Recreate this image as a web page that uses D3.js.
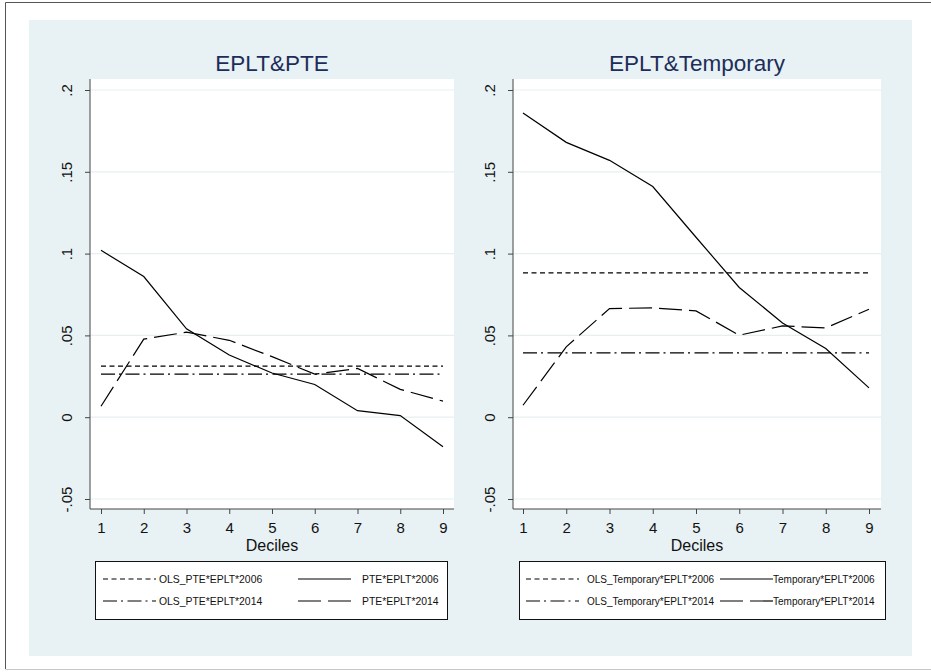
<!DOCTYPE html>
<html>
<head>
<meta charset="utf-8">
<script src="https://cdn.jsdelivr.net/npm/d3@7"></script>
<style>
  body { margin: 0; background: #fff; }
  svg text { font-family: "Liberation Sans", Arial, sans-serif; }
</style>
</head>
<body>
<div class="visualisation"></div>
<script>
const deciles = [1, 2, 3, 4, 5, 6, 7, 8, 9];
const yTicks = [-0.05, 0, 0.05, 0.1, 0.15, 0.2];
const yTickLabels = ['-.05', '0', '.05', '.1', '.15', '.2'];

// EPLT&PTE panel
const pte2006 = [0.102, 0.086, 0.054, 0.038, 0.027, 0.020, 0.004, 0.001, -0.018];
const pte2014 = [0.0067, 0.0477, 0.052, 0.047, 0.037, 0.0263, 0.0298, 0.017, 0.0098];
const olsPte2006 = 0.0312;
const olsPte2014 = 0.0263;

// EPLT&Temporary panel
const temp2006 = [0.186, 0.168, 0.157, 0.141, 0.110, 0.0793, 0.0576, 0.042, 0.0179];
const temp2014 = [0.0073, 0.043, 0.0664, 0.0668, 0.065, 0.0501, 0.0558, 0.0546, 0.066];
const olsTemp2006 = 0.0882;
const olsTemp2014 = 0.0393;

const svgWidth = 931;
const svgHeight = 672;

const DASH = { ols2006: '5,3.5', ols2014: '14,4,2,4.5', solid: null, long: '23,7' };

const panels = [
    {
        title: 'EPLT&PTE',
        box: { x0: 90, x1: 454 },
        xRange: [101, 443],
        ols2006: olsPte2006,
        ols2014: olsPte2014,
        s2006: pte2006,
        s2014: pte2014,
        legendBox: { x: 95, w: 352 },
        labels: ['OLS_PTE*EPLT*2006', 'PTE*EPLT*2006', 'OLS_PTE*EPLT*2014', 'PTE*EPLT*2014'],
        keyX: [103, 298],
        textX: [159, 362],
        fontSize: '10.4px'
    },
    {
        title: 'EPLT&Temporary',
        box: { x0: 513, x1: 881 },
        xRange: [523, 869],
        ols2006: olsTemp2006,
        ols2014: olsTemp2014,
        s2006: temp2006,
        s2014: temp2014,
        legendBox: { x: 519, w: 366 },
        labels: ['OLS_Temporary*EPLT*2006', 'Temporary*EPLT*2006', 'OLS_Temporary*EPLT*2014', 'Temporary*EPLT*2014'],
        keyX: [526, 720],
        textX: [587, 773],
        fontSize: '10px'
    }
];

const plotTop = 79;
const plotBottom = 509;

const svg = d3
    .select('.visualisation')
    .append('svg')
    .attr('width', svgWidth)
    .attr('height', svgHeight);

// outer frame
svg.append('line').attr('x1', 5.5).attr('x2', 931).attr('y1', 2.5).attr('y2', 2.5).attr('stroke', '#555');
svg.append('line').attr('x1', 5.5).attr('x2', 5.5).attr('y1', 2.5).attr('y2', 669).attr('stroke', '#555');
svg.append('line').attr('x1', 5.5).attr('x2', 931).attr('y1', 669.5).attr('y2', 669.5).attr('stroke', '#c8c8c8');

// light blue graph region
svg.append('rect')
    .attr('x', 29).attr('y', 20)
    .attr('width', 883).attr('height', 636)
    .attr('fill', '#e8f1f4');

const yScale = d3.scaleLinear().domain([-0.05, 0.2]).range([499, 90]);

panels.forEach((p) => {
    const xScale = d3.scaleLinear().domain([1, 9]).range(p.xRange);
    const g = svg.append('g');

    // plot area
    g.append('rect')
        .attr('x', p.box.x0).attr('y', plotTop)
        .attr('width', p.box.x1 - p.box.x0).attr('height', plotBottom - plotTop)
        .attr('fill', '#fff');

    // grid lines
    g.selectAll('line.grid').data(yTicks).join('line')
        .attr('class', 'grid')
        .attr('x1', p.box.x0).attr('x2', p.box.x1)
        .attr('y1', (d) => yScale(d)).attr('y2', (d) => yScale(d))
        .attr('stroke', '#e6eff0').attr('stroke-width', 1.2);

    // title
    g.append('text')
        .text(p.title)
        .attr('x', (p.box.x0 + p.box.x1) / 2)
        .attr('y', 71)
        .attr('text-anchor', 'middle')
        .attr('font-size', '22.5px')
        .attr('fill', '#1c2d59');

    // y axis
    const yAxis = g.append('g')
        .attr('transform', `translate(${p.box.x0},0)`)
        .call(d3.axisLeft(yScale).tickValues(yTicks).tickSize(5)
            .tickFormat((d, i) => yTickLabels[i]));
    yAxis.select('.domain').attr('d', `M0,${plotTop}V${plotBottom}`).attr('stroke', '#444');
    yAxis.selectAll('.tick line').attr('stroke', '#444');
    yAxis.selectAll('.tick text')
        .attr('transform', 'rotate(-90)')
        .attr('x', 0).attr('y', -18).attr('dy', 0)
        .attr('text-anchor', 'middle')
        .attr('font-size', '15px')
        .attr('font-family', '"Liberation Sans", Arial, sans-serif')
        .attr('fill', '#111');

    // x axis
    const xAxis = g.append('g')
        .attr('transform', `translate(0,${plotBottom})`)
        .call(d3.axisBottom(xScale).tickValues(deciles).tickSize(5).tickPadding(8.5)
            .tickFormat(d3.format('d')));
    xAxis.select('.domain').attr('d', `M${p.box.x0},0H${p.box.x1}`).attr('stroke', '#444');
    xAxis.selectAll('.tick line').attr('stroke', '#444');
    xAxis.selectAll('.tick text')
        .attr('font-size', '15px')
        .attr('font-family', '"Liberation Sans", Arial, sans-serif')
        .attr('fill', '#111');

    g.append('text')
        .text('Deciles')
        .attr('x', (p.box.x0 + p.box.x1) / 2)
        .attr('y', 551)
        .attr('text-anchor', 'middle')
        .attr('font-size', '16px')
        .attr('fill', '#111');

    // series
    const line = d3.line()
        .x((d, i) => xScale(deciles[i]))
        .y((d) => yScale(d));

    const series = [
        { values: deciles.map(() => p.ols2006), dash: DASH.ols2006 },
        { values: deciles.map(() => p.ols2014), dash: DASH.ols2014 },
        { values: p.s2006, dash: DASH.solid },
        { values: p.s2014, dash: DASH.long }
    ];

    g.selectAll('path.series').data(series).join('path')
        .attr('class', 'series')
        .attr('d', (d) => line(d.values))
        .attr('fill', 'none')
        .attr('stroke', '#000')
        .attr('stroke-width', 1.2)
        .attr('stroke-dasharray', (d) => d.dash);

    // legend
    g.append('rect')
        .attr('x', p.legendBox.x + 0.5).attr('y', 561.5)
        .attr('width', p.legendBox.w).attr('height', 58)
        .attr('fill', '#fff').attr('stroke', '#111');

    const keys = [
        { dash: DASH.ols2006, col: 0, row: 0 },
        { dash: DASH.solid, col: 1, row: 0 },
        { dash: DASH.ols2014, col: 0, row: 1 },
        { dash: DASH.long, col: 1, row: 1 }
    ];
    const rowY = [579, 601];

    keys.forEach((k, i) => {
        const kx = p.keyX[k.col];
        g.append('line')
            .attr('x1', kx).attr('x2', kx + 53)
            .attr('y1', rowY[k.row]).attr('y2', rowY[k.row])
            .attr('stroke', '#000').attr('stroke-width', 1.2)
            .attr('stroke-dasharray', k.dash);
        g.append('text')
            .text(p.labels[i])
            .attr('x', p.textX[k.col])
            .attr('y', rowY[k.row] + 4)
            .attr('font-size', p.fontSize)
            .attr('fill', '#111');
    });
});
</script>
</body>
</html>
